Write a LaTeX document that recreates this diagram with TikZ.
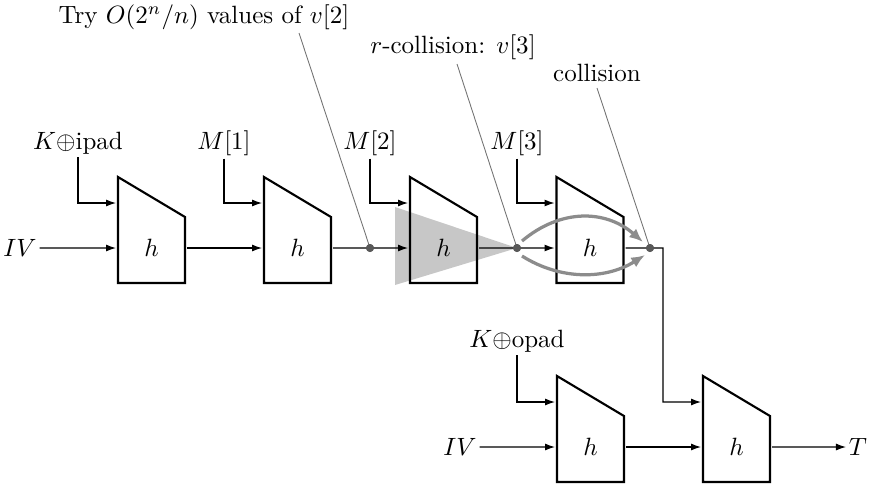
\documentclass[tikz,border=0pt]{standalone}
\usetikzlibrary{arrows.meta,calc}
\begin{document}
\begin{tikzpicture}[x=0.40pt,y=-0.40pt,
  >={Latex[length=4pt,width=2.8pt]},
  blk/.style={rectangle,minimum width=26.8pt,minimum height=42.4pt,inner sep=0pt,outer sep=0pt},
  boxline/.style={line width=0.85pt,line join=miter},
  lbl/.style={inner sep=1pt},
  wire/.style={line width=0.45pt},
  note/.style={draw=black!55,line width=0.35pt},
  dot/.style={circle,fill=black!65,inner sep=0pt,minimum size=3.2pt},
  cone/.style={fill=black!22,draw=none},
  greyarc/.style={draw=black!45,line width=1.3pt,-{Latex[length=5.5pt,width=4.5pt]}}]
\useasboundingbox (0,0) rectangle (870,487);

% blocks
\node[blk] (b1) at (151.5,230) {};
\node[blk] (b2) at (297.5,230) {};
\node[blk] (b3) at (443.5,230) {};
\node[blk] (b4) at (590,230) {};
\node[blk] (b5) at (590.5,429) {};
\node[blk] (b6) at (736.5,429) {};

% dots
\node[dot] (d1) at (370,248) {};
\node[dot] (d2) at (517,248) {};
\node[dot] (d3) at (650,248) {};
\coordinate (c1) at (663,248);

% grey cone behind third block
\fill[cone] (395,207) -- (395,285) -- (d2.center) -- cycle;

% block outlines
\foreach \b in {b1,b2,b3,b4,b5,b6}{
  \draw[boxline] (\b.north west) -- (\b.south west) -- (\b.south east) -- ($(\b.north east)+(0,40)$) -- cycle;
  \node at ($(\b.north)+(0,71)$) {$h$};
}

% labels
\node[lbl] (k1) at (78,143) {$K{\oplus}$ipad};
\node[lbl] (m1) at (224,143) {$M[1]$};
\node[lbl] (m2) at (370,143) {$M[2]$};
\node[lbl] (m3) at (517,143) {$M[3]$};
\node[lbl] (k2) at (517,341) {$K{\oplus}$opad};
\node[lbl] (iv1) at (20,248) {$IV$};
\node[lbl] (iv2) at (460,447) {$IV$};
\node[lbl] (t) at (858,447) {$T$};

\node[lbl] (n1) at (204,17) {Try $O(2^n/n)$ values of $v[2]$};
\node[lbl] (n2) at (453,47) {$r$-collision: $v[3]$};
\node[lbl] (n3) at (597,73) {collision};
\coordinate (a1) at (299,33);
\coordinate (a2) at (457,64);
\coordinate (a3) at (597,88);

% top inputs
\draw[wire,->] (k1.south) |- ($(b1.north west)+(-2,26)$);
\draw[wire,->] (m1.south) |- ($(b2.north west)+(-2,26)$);
\draw[wire,->] (m2.south) |- ($(b3.north west)+(-2,26)$);
\draw[wire,->] (m3.south) |- ($(b4.north west)+(-2,26)$);
\draw[wire,->] (k2.south) |- ($(b5.north west)+(-2,26)$);

% chaining
\draw[wire,->] (iv1.east) -- ($(b1.north west)+(-2,71)$);
\draw[wire,->] ($(b1.north east)+(2,71)$) -- ($(b2.north west)+(-2,71)$);
\draw[wire,->] ($(b2.north east)+(2,71)$) -- (d1.center) -- ($(b3.north west)+(-2,71)$);
\draw[wire,->] ($(b3.north east)+(2,71)$) -- (d2.center) -- ($(b4.north west)+(-2,71)$);
\draw[wire,->] ($(b4.north east)+(2,71)$) -- (d3.center) -- (c1) |- ($(b6.north west)+(-2,26)$);
\draw[wire,->] (iv2.east) -- ($(b5.north west)+(-2,71)$);
\draw[wire,->] ($(b5.north east)+(2,71)$) -- ($(b6.north west)+(-2,71)$);
\draw[wire,->] ($(b6.north east)+(2,71)$) -- (t.west);

% annotation lines
\draw[note] (a1) -- (d1.center);
\draw[note] (a2) -- (d2.center);
\draw[note] (a3) -- (d3.center);

% dots on top
\node[dot] at (d1) {};
\node[dot] at (d2) {};
\node[dot] at (d3) {};

% grey bent arrows
\draw[greyarc] (522,241) .. controls (560,209) and (605,209) .. (643,242);
\draw[greyarc] (522,256) .. controls (560,280) and (605,280) .. (645,255);
\end{tikzpicture}
\end{document}
